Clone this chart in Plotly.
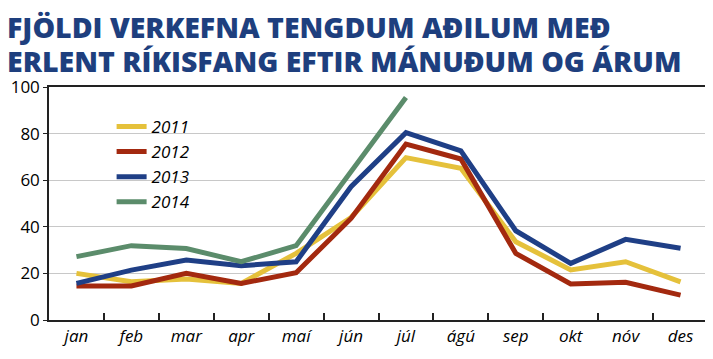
import plotly.graph_objects as go

months = ["jan", "feb", "mar", "apr", "maí", "jún", "júl", "ágú", "sep", "okt", "nóv", "des"]
y2011 = [20.0, 16.4, 17.6, 15.7, 28.6, 44.0, 69.7, 65.1, 33.6, 21.5, 25.0, 16.4]
y2012 = [14.6, 14.6, 20.0, 15.7, 20.3, 43.6, 75.5, 69.1, 28.6, 15.5, 16.2, 10.7]
y2013 = [15.7, 21.4, 25.7, 23.3, 25.0, 57.2, 80.4, 72.6, 38.3, 24.3, 34.6, 30.8]
y2014 = [27.2, 31.9, 30.7, 25.0, 31.9, 64.0, 95.5]
series_names = ["2011", "2012", "2013", "2014"]
colors = ["#e5c13b", "#a3290f", "#1f3f86", "#5b8c6b"]
title_lines = ["FJÖLDI VERKEFNA TENGDUM AÐILUM MEÐ", "ERLENT RÍKISFANG EFTIR MÁNUÐUM OG ÁRUM"]

fig = go.Figure()
for name, vals, col in zip(series_names, [y2011, y2012, y2013, y2014], colors):
    fig.add_trace(go.Scatter(x=months[:len(vals)], y=vals, name=name, mode="lines",
                             line=dict(color=col, width=5)))

# page body has an 8px margin, so the figure is sized/margined to compensate
PLOT_H = 351 - 79 - 39
title_y = [(320 - 27) / PLOT_H, (320 - 61) / PLOT_H]
for line, ty in zip(title_lines, title_y):
    fig.add_annotation(text=f"<span style='font-stretch:100%;font-weight:800'>{line}</span>",
                       xref="paper", yref="paper", x=(2 - 46) / 664, y=ty,
                       xanchor="left", yanchor="middle", showarrow=False,
                       font=dict(family="Open Sans", size=28.5, color="#1e3f7e", weight=700))

fig.update_layout(
    width=705, height=351,
    margin=dict(l=38, r=3, t=79, b=39),
    paper_bgcolor="white", plot_bgcolor="white",
    legend=dict(x=0.095, y=0.906, xanchor="left", yanchor="top", bgcolor="rgba(0,0,0,0)",
                font=dict(family="Open Sans", size=17, color="black", style="italic"),
                tracegroupgap=0),
    font=dict(family="Open Sans", color="black"),
)
fig.update_xaxes(type="category", categoryorder="array", categoryarray=months,
                 range=[-0.5, 11.5], showline=True, linecolor="#222222", linewidth=1.5, mirror=True,
                 ticks="inside", tickson="boundaries", ticklen=7, tickcolor="#222222", tickwidth=1.5,
                 showgrid=False,
                 tickfont=dict(family="Open Sans", size=17, style="italic", color="black"))
fig.update_yaxes(range=[0, 100], dtick=20, showline=True, linecolor="#222222", linewidth=1.5, mirror=True,
                 ticks="outside", ticklen=4, tickcolor="#222222", showgrid=True, gridcolor="#c8c8c8",
                 gridwidth=1, zeroline=False,
                 tickfont=dict(family="Open Sans", size=17, color="black"))

fig.write_html("out.html")
